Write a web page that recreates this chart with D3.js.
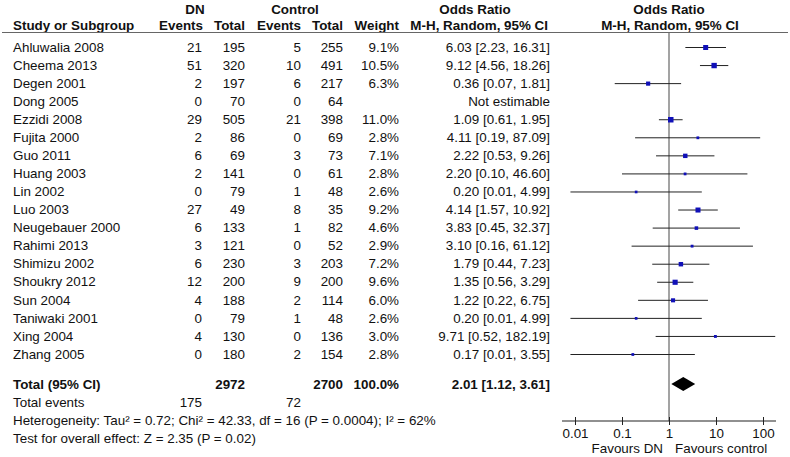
<!DOCTYPE html>
<html>
<head>
<meta charset="utf-8">
<script src="https://cdn.jsdelivr.net/npm/d3@7"></script>
<style>
body { margin: 0; background: #fff; }
svg text { font-family: "Liberation Sans", Arial, sans-serif; font-size: 13.4px; fill: #111; }
svg text.b { font-weight: bold; }
</style>
</head>
<body>
<svg id="forest" width="790" height="457"></svg>
<script>
const studies = ['Ahluwalia 2008', 'Cheema 2013', 'Degen 2001', 'Dong 2005', 'Ezzidi 2008', 'Fujita 2000', 'Guo 2011', 'Huang 2003', 'Lin 2002', 'Luo 2003', 'Neugebauer 2000', 'Rahimi 2013', 'Shimizu 2002', 'Shoukry 2012', 'Sun 2004', 'Taniwaki 2001', 'Xing 2004', 'Zhang 2005']
const dnEvents = [21, 51, 2, 0, 29, 2, 6, 2, 0, 27, 6, 3, 6, 12, 4, 0, 4, 0]
const dnTotal = [195, 320, 197, 70, 505, 86, 69, 141, 79, 49, 133, 121, 230, 200, 188, 79, 130, 180]
const ctrlEvents = [5, 10, 6, 0, 21, 0, 3, 0, 1, 8, 1, 0, 3, 9, 2, 1, 0, 2]
const ctrlTotal = [255, 491, 217, 64, 398, 69, 73, 61, 48, 35, 82, 52, 203, 200, 114, 48, 136, 154]
const weight = [9.1, 10.5, 6.3, null, 11.0, 2.8, 7.1, 2.8, 2.6, 9.2, 4.6, 2.9, 7.2, 9.6, 6.0, 2.6, 3.0, 2.8]
const oddsRatio = [6.03, 9.12, 0.36, null, 1.09, 4.11, 2.22, 2.20, 0.20, 4.14, 3.83, 3.10, 1.79, 1.35, 1.22, 0.20, 9.71, 0.17]
const ciLow = [2.23, 4.56, 0.07, null, 0.61, 0.19, 0.53, 0.10, 0.008, 1.57, 0.45, 0.16, 0.44, 0.56, 0.22, 0.008, 0.52, 0.008]
const ciHigh = [16.31, 18.26, 1.81, null, 1.95, 87.09, 9.26, 46.60, 4.99, 10.92, 32.37, 61.12, 7.23, 3.29, 6.75, 4.99, 182.19, 3.55]
const total = { dnTotal: 2972, ctrlTotal: 2700, weight: 100.0, or: 2.01, lo: 1.12, hi: 3.61, dnEvents: 175, ctrlEvents: 72 }
const heterogeneity = 'Heterogeneity: Tau² = 0.72; Chi² = 42.33, df = 16 (P = 0.0004); I² = 62%'
const overallTest = 'Test for overall effect: Z = 2.35 (P = 0.02)'
const tickValues = [0.01, 0.1, 1, 10, 100]
const tickLabels = ['0.01', '0.1', '1', '10', '100']

const svg = d3.select('#forest')
const f2 = v => v.toFixed(2)
const y = d3.scalePoint().domain(studies).range([47, 354])
const x = d3.scaleLog().domain([0.01, 100]).range([575, 763])
const col = { name: 13, dnE: 202, dnT: 245, cE: 301, cT: 343, w: 399, or: 550 }

function txt(xp, yp, s, anchor, bold) {
  return svg.append('text').attr('x', xp).attr('y', yp).attr('dy', '0.35em')
    .attr('text-anchor', anchor || 'start').attr('class', bold ? 'b' : null).text(s)
}

// header
txt(195, 9, 'DN', 'middle', 1)
txt(295, 9, 'Control', 'middle', 1)
txt(475, 9, 'Odds Ratio', 'middle', 1)
txt(669, 9, 'Odds Ratio', 'middle', 1)
txt(col.name, 25, 'Study or Subgroup', 'start', 1)
txt(col.dnE + 1, 25, 'Events', 'end', 1)
txt(col.dnT, 25, 'Total', 'end', 1)
txt(col.cE, 25, 'Events', 'end', 1)
txt(col.cT, 25, 'Total', 'end', 1)
txt(col.w, 25, 'Weight', 'end', 1)
txt(col.or - 2, 25, 'M-H, Random, 95% CI', 'end', 1)
txt(670, 25, 'M-H, Random, 95% CI', 'middle', 1)
svg.append('line').attr('x1', 2).attr('x2', 788).attr('y1', 32.5).attr('y2', 32.5).attr('stroke', '#666').attr('stroke-width', 1.2)

// study rows
studies.forEach((s, i) => {
  const yy = y(s)
  txt(col.name, yy, s)
  txt(col.dnE, yy, dnEvents[i], 'end')
  txt(col.dnT, yy, dnTotal[i], 'end')
  txt(col.cE, yy, ctrlEvents[i], 'end')
  txt(col.cT, yy, ctrlTotal[i], 'end')
  if (weight[i] != null) txt(col.w, yy, weight[i].toFixed(1) + '%', 'end')
  txt(col.or, yy, oddsRatio[i] == null ? 'Not estimable' : `${f2(oddsRatio[i])} [${f2(ciLow[i])}, ${f2(ciHigh[i])}]`, 'end')
})

// null line
svg.append('line').attr('x1', x(1)).attr('x2', x(1)).attr('y1', 32.5).attr('y2', 421).attr('stroke', '#666').attr('stroke-width', 1.2)

// CIs and squares
const est = studies.map((s, i) => ({ s, i })).filter(d => oddsRatio[d.i] != null)
svg.append('g').selectAll('line').data(est).join('line')
  .attr('x1', d => x(ciLow[d.i])).attr('x2', d => x(ciHigh[d.i]))
  .attr('y1', d => y(d.s) + 0.5).attr('y2', d => y(d.s) + 0.5)
  .attr('stroke', '#222').attr('stroke-width', 1)
const sz = d3.scaleSqrt().domain([0, 11]).range([0, 5.5])
svg.append('g').selectAll('rect').data(est).join('rect')
  .attr('x', d => x(oddsRatio[d.i]) - sz(weight[d.i]) / 2)
  .attr('y', d => y(d.s) + 0.5 - sz(weight[d.i]) / 2)
  .attr('width', d => sz(weight[d.i])).attr('height', d => sz(weight[d.i]))
  .attr('fill', '#1010b8')

// total rows
const ty = 384
txt(col.name, ty, 'Total (95% CI)', 'start', 1)
txt(col.dnT, ty, total.dnTotal, 'end', 1)
txt(col.cT, ty, total.ctrlTotal, 'end', 1)
txt(col.w, ty, total.weight.toFixed(1) + '%', 'end', 1)
txt(col.or, ty, `${f2(total.or)} [${f2(total.lo)}, ${f2(total.hi)}]`, 'end', 1)
svg.append('path')
  .attr('d', `M${x(total.lo)},${ty}L${x(total.or)},${ty - 7}L${x(total.hi)},${ty}L${x(total.or)},${ty + 7}Z`)
  .attr('fill', '#000')
txt(col.name, 402, 'Total events')
txt(col.dnE, 402, total.dnEvents, 'end')
txt(col.cE, 402, total.ctrlEvents, 'end')
txt(col.name, 420, heterogeneity)
txt(col.name, 438, overallTest)

// axis
const ax = svg.append('g').attr('transform', 'translate(0,421)')
  .call(d3.axisBottom(x).tickValues(tickValues).tickFormat((d, i) => tickLabels[i]).tickSize(4).tickPadding(5))
ax.select('.domain').remove()
ax.selectAll('.tick line').attr('y1', -4).attr('y2', 4).attr('stroke', '#222')
ax.selectAll('.tick text').attr('font-size', null).attr('font-family', null).attr('fill', null).attr('y', 7)
ax.append('line').attr('x1', x(0.01) - 13).attr('x2', x(100) + 13).attr('stroke', '#222').attr('stroke-width', 1.2)
ax.attr('font-size', null).attr('font-family', null)
txt(x(1) - 6, 448.5, 'Favours DN', 'end')
txt(x(1) + 6, 448.5, 'Favours control', 'start')
</script>
</body>
</html>
